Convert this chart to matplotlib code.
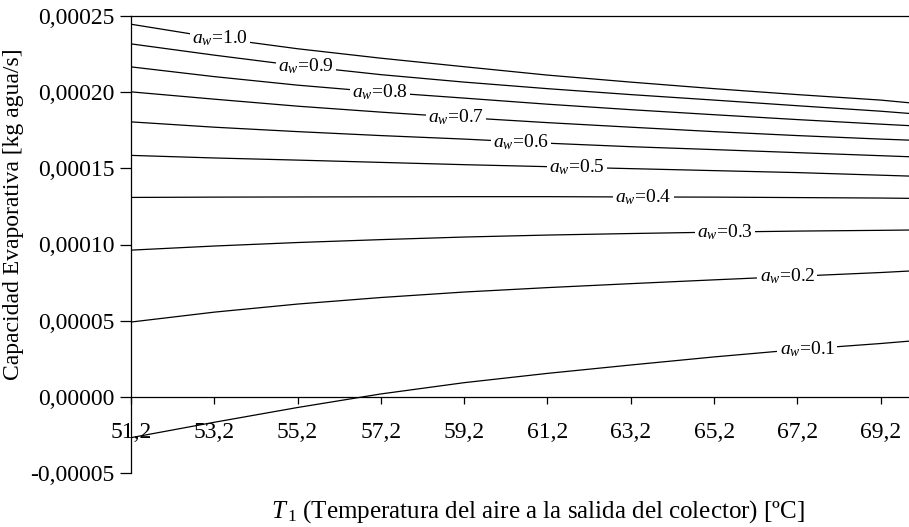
import numpy as np
from matplotlib import pyplot as plt
from matplotlib.ticker import FuncFormatter

# temperature of the air at collector exit (ºC)
t1 = [51.2, 53.2, 55.2, 57.2, 59.2, 61.2, 63.2, 65.2, 67.2, 69.2, 69.9]

# evaporative capacity (kg water/s) for each water activity (x1e-6)
cap_10 = [244.6, 235.8, 228.5, 222.3, 216.7, 211.2, 206.6, 202.3, 198.4, 194.8, 193.0]
cap_09 = [231.7, 224.3, 217.4, 211.5, 206.6, 202.3, 198.4, 194.8, 191.1, 187.5, 186.0]
cap_08 = [216.6, 210.2, 204.6, 200.0, 196.1, 192.1, 188.5, 185.2, 182.0, 179.0, 178.0]
cap_07 = [200.2, 195.4, 190.8, 186.9, 183.3, 180.0, 177.0, 174.1, 171.5, 169.2, 168.5]
cap_06 = [180.5, 177.0, 174.1, 171.5, 169.2, 166.5, 164.2, 162.3, 160.3, 158.3, 157.6]
cap_05 = [158.5, 156.8, 155.4, 153.9, 152.4, 151.1, 149.8, 148.5, 147.2, 145.5, 144.9]
cap_04 = [130.9, 131.1, 131.2, 131.3, 131.4, 131.4, 131.2, 131.1, 130.8, 130.5, 130.3]
cap_03 = [96.3, 99.0, 101.3, 103.2, 104.9, 106.2, 107.2, 108.1, 108.8, 109.3, 109.5]
cap_02 = [49.1, 55.6, 60.9, 65.2, 68.8, 71.7, 74.3, 76.8, 79.2, 81.6, 82.6]
cap_01 = [-26.8, -16.7, -7.0, 1.9, 9.3, 15.4, 20.9, 26.2, 31.0, 35.0, 36.6]

aw_labels = ["1.0", "0.9", "0.8", "0.7", "0.6", "0.5", "0.4", "0.3", "0.2", "0.1"]
label_x = [53.34, 55.40, 57.18, 59.01, 60.57, 61.91, 63.50, 65.47, 66.96, 67.44]

series = [cap_10, cap_09, cap_08, cap_07, cap_06, cap_05, cap_04, cap_03, cap_02, cap_01]

x_ticks = [51.2, 53.2, 55.2, 57.2, 59.2, 61.2, 63.2, 65.2, 67.2, 69.2]

plt.rcParams['font.family'] = 'Liberation Serif'
plt.rcParams['font.size'] = 17
plt.rcParams['mathtext.fontset'] = 'custom'
plt.rcParams['mathtext.rm'] = 'Liberation Serif'
plt.rcParams['mathtext.it'] = 'Liberation Serif:italic'

fig = plt.figure(figsize=(9.09, 5.27), dpi=100)
ax = fig.add_axes([131 / 909, 1 - 473 / 527, 1 - 131 / 909, (473 - 16) / 527])

for vals, lab, lx in zip(series, aw_labels, label_x):
    y = np.array(vals) * 1e-6
    ax.plot(t1, y, color='black', linewidth=0.9)
    ly = np.interp(lx, t1, y)
    ax.text(lx, ly, "$a_w$=" + lab, ha='center', va='center', fontsize=14,
            bbox=dict(facecolor='white', edgecolor='none', pad=1.5))

ax.set_xlim(51.2, 69.88)
ax.set_ylim(-0.00005, 0.00025)
ax.set_yticks(np.arange(-0.00005, 0.00025 + 1e-9, 0.00005))
ax.set_xticks(x_ticks)
ax.xaxis.set_major_formatter(FuncFormatter(lambda v, p: f"{v:.1f}".replace('.', ',')))
ax.yaxis.set_major_formatter(FuncFormatter(lambda v, p: f"{v:.5f}".replace('.', ',')))

ax.spines['bottom'].set_position(('data', 0))
ax.spines['right'].set_visible(False)
for s in ax.spines.values():
    s.set_linewidth(0.9)
ax.tick_params(axis='x', direction='out', length=5, width=0.9, pad=13)
ax.tick_params(axis='y', direction='out', length=8, width=0.9, pad=4)

fig.text(14 / 909, 1 - 214 / 527, "Capacidad Evaporativa [kg agua/s]", rotation=90,
         ha='center', va='center', fontsize=17)
fig.text(538 / 909, 1 - 512 / 527,
         "$T_{\\,1}$ (Temperatura del aire a la salida del colector) [ºC]",
         ha='center', va='center', fontsize=18)

fig.savefig("out.png", dpi=100)
